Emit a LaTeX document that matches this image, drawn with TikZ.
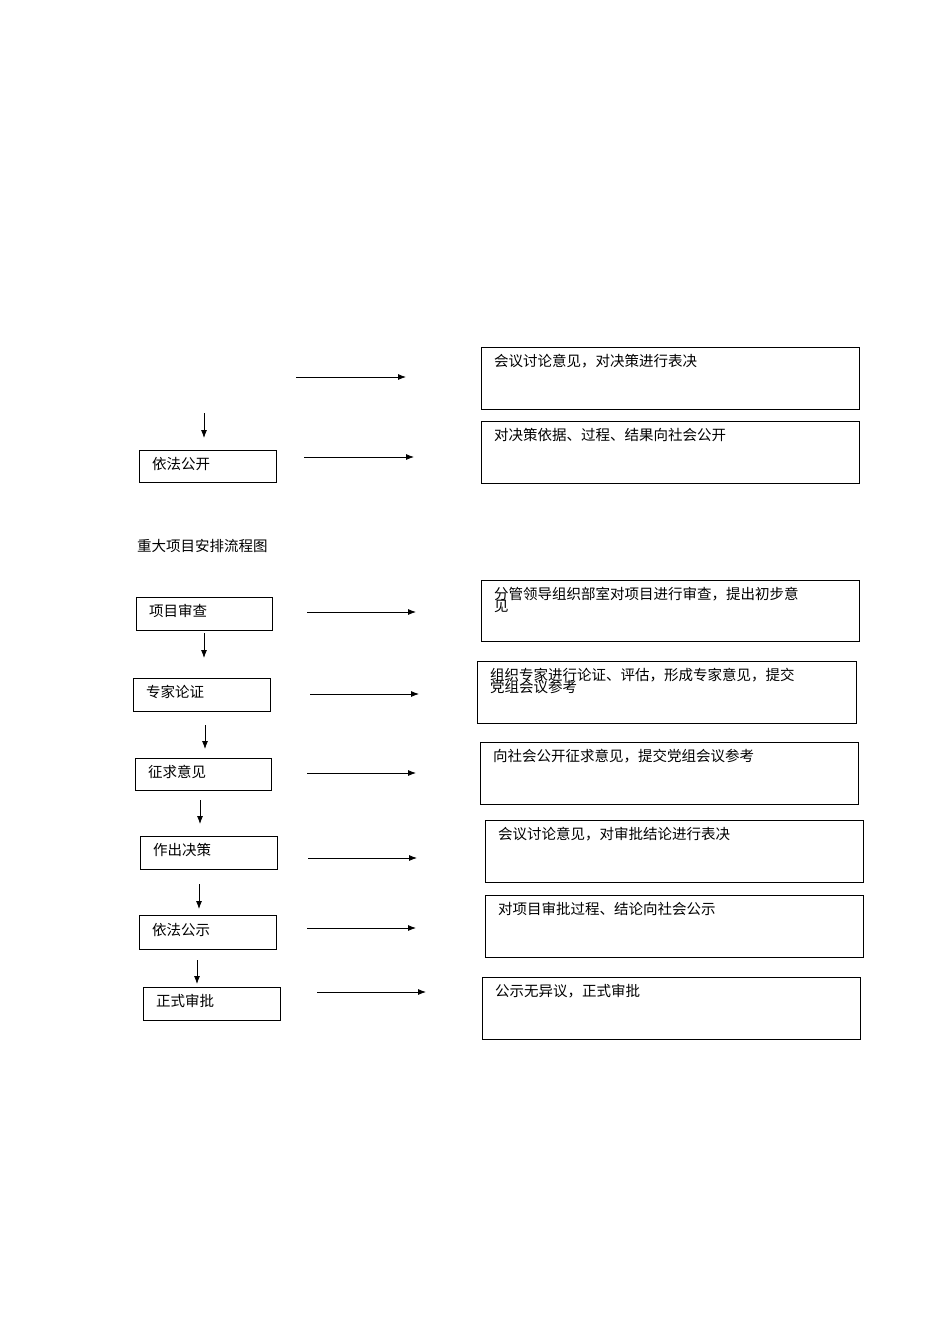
\documentclass[tikz,border=0pt]{standalone}
\usepackage{fontspec}
\setmainfont{Noto Sans CJK SC}
\usetikzlibrary{arrows.meta}
\begin{document}
\begin{tikzpicture}[x=1pt,y=-1pt,
  box/.style={draw,line width=0.8pt,anchor=north west,inner sep=0pt},
  txt/.style={anchor=north west,inner sep=0pt,font=\fontsize{14.5}{15}\selectfont,align=left},
  arr/.style={line width=0.8pt,-{Latex[length=8pt,width=6pt]}}]
\useasboundingbox (0,0) rectangle (950,1344);
% generic: \B{name}{x1}{y1}{x2}{y2}
\newcommand\Bx[5]{\node[box,minimum width=#4-#2,minimum height=#5-#3] (#1) at (#2,#3) {};}
% top section
\Bx{r1}{481}{347}{859}{409}
\node[txt] (t1) at (494,354) {会议讨论意见，对决策进行表决};
\draw[arr] (296,377) coordinate (a1s) -- (406,377) coordinate (a1e);
\draw[arr] (204,413) coordinate (d0s) -- (204,438) coordinate (d0e);
\Bx{l1}{139}{450}{276}{482}
\node[txt] (lt1) at (152,457) {依法公开};
\draw[arr] (304,457) coordinate (a2s) -- (414,457) coordinate (a2e);
\Bx{r2}{481}{421}{859}{483}
\node[txt] (t2) at (494,428) {对决策依据、过程、结果向社会公开};
\node[txt] (title) at (137,539) {重大项目安排流程图};
% second section
\Bx{l3}{136}{597}{272}{630}
\node[txt] (lt3) at (149,604) {项目审查};
\draw[arr] (307,612) coordinate (a3s) -- (416,612) coordinate (a3e);
\Bx{r3}{481}{580}{859}{641}
\node[txt,text width=360pt] (t3) at (494,587) {分管领导组织部室对项目进行审查，提出初步意\\[-3pt]见};
\draw[arr] (204,633) coordinate (d1s) -- (204,658) coordinate (d1e);
\Bx{l4}{133}{678}{270}{711}
\node[txt] (lt4) at (146,685) {专家论证};
\draw[arr] (310,694) coordinate (a4s) -- (419,694) coordinate (a4e);
\Bx{r4}{477}{661}{856}{723}
\node[txt] (t4) at (490,668) {组织专家进行论证、评估，形成专家意见，提交\\[-3pt]党组会议参考};
\draw[arr] (205,725) coordinate (d2s) -- (205,749) coordinate (d2e);
\Bx{l5}{135}{758}{271}{790}
\node[txt] (lt5) at (148,765) {征求意见};
\draw[arr] (307,773) coordinate (a5s) -- (416,773) coordinate (a5e);
\Bx{r5}{480}{742}{858}{804}
\node[txt] (t5) at (493,749) {向社会公开征求意见，提交党组会议参考};
\draw[arr] (200,800) coordinate (d3s) -- (200,824) coordinate (d3e);
\Bx{l6}{140}{836}{277}{869}
\node[txt] (lt6) at (153,843) {作出决策};
\draw[arr] (308,858) coordinate (a6s) -- (417,858) coordinate (a6e);
\Bx{r6}{485}{820}{863}{882}
\node[txt] (t6) at (498,827) {会议讨论意见，对审批结论进行表决};
\draw[arr] (199,884) coordinate (d4s) -- (199,909) coordinate (d4e);
\Bx{l7}{139}{915}{276}{949}
\node[txt] (lt7) at (152,923) {依法公示};
\draw[arr] (307,928) coordinate (a7s) -- (416,928) coordinate (a7e);
\Bx{r7}{485}{895}{863}{957}
\node[txt] (t7) at (498,902) {对项目审批过程、结论向社会公示};
\draw[arr] (197,960) coordinate (d5s) -- (197,984) coordinate (d5e);
\Bx{l8}{143}{987}{280}{1020}
\node[txt] (lt8) at (156,994) {正式审批};
\draw[arr] (317,992) coordinate (a8s) -- (426,992) coordinate (a8e);
\Bx{r8}{482}{977}{860}{1039}
\node[txt] (t8) at (495,984) {公示无异议，正式审批};
\end{tikzpicture}
\end{document}
